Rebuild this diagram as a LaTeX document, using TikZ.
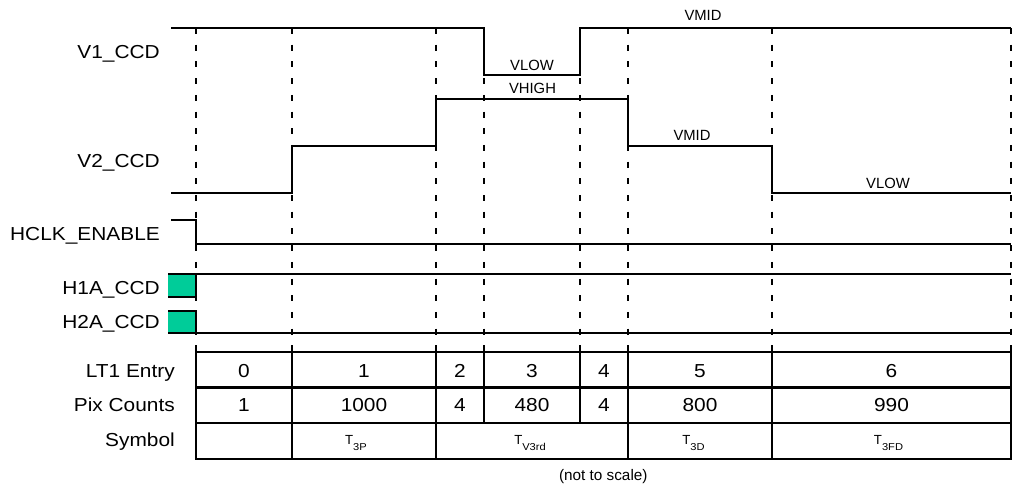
\documentclass[tikz,border=0pt]{standalone}
\usepackage{fontspec}
\setmainfont{Liberation Sans}
\newfontfamily\bigfont[FakeStretch=1.11]{Liberation Sans}
\definecolor{hgreen}{RGB}{0,204,153}
\newcommand{\tsym}[1]{T\raisebox{-6pt}{\bigfont\fontsize{10}{10}\selectfont #1}}
\begin{document}
\begin{tikzpicture}[x=1pt,y=-1pt,
  sig/.style={line width=2pt, line join=miter},
  grid/.style={line width=2.6pt, line cap=rect},
  vdash/.style={line width=2pt, dash pattern=on 6pt off 10.7pt},
  biglbl/.style={inner sep=0pt, font=\bigfont\fontsize{18.8}{20}\selectfont},
  smalllbl/.style={inner sep=0pt, font=\fontsize{14.8}{16}\selectfont},
  tfont/.style={inner sep=0pt, font=\fontsize{13.2}{14}\selectfont}]
\useasboundingbox (0,0) rectangle (1015,485);
% dashed time markers
\foreach \x/\n in {196/a,292/b,436/c,484/d,580/e,628/f,772/g,1011/h}{
  \coordinate (t\n) at (\x,28);
  \coordinate (b\n) at (\x,352);
  \draw[vdash] (t\n) -- (b\n);
}
% V1_CCD
\draw[sig] (171,28) -- (484,28) -- (484,75.3) -- (580,75.3) -- (580,28) -- (1011,28);
% V2_CCD
\draw[sig] (171,193.3) -- (292,193.3) -- (292,146) -- (436,146) -- (436,98.7) -- (628,98.7) -- (628,146) -- (772,146) -- (772,193.3) -- (1011,193.3);
% HCLK_ENABLE
\draw[sig] (171,220.3) -- (196,220.3) -- (196,244.3) -- (1011,244.3);
% H1A_CCD
\fill[hgreen] (168,274) rectangle (196,297.3);
\draw[sig] (168,274) -- (1011,274);
\draw[sig] (168,297.3) -- (196,297.3) -- (196,273);
% H2A_CCD
\fill[hgreen] (168,310.7) rectangle (196,332.7);
\draw[sig] (168,310.7) -- (196,310.7) -- (196,333.7);
\draw[sig] (168,332.7) -- (1011,332.7);
% signal names
\node[biglbl, anchor=base east] (v1) at (160,58.3) {V1\_CCD};
\node[biglbl, anchor=base east] (v2) at (160,167.5) {V2\_CCD};
\node[biglbl, anchor=base east] (hclk) at (160,240.5) {HCLK\_ENABLE};
\node[biglbl, anchor=base east] (h1a) at (160,294.8) {H1A\_CCD};
\node[biglbl, anchor=base east] (h2a) at (160,328.3) {H2A\_CCD};
% level labels
\node[smalllbl, anchor=base] (vmid1) at (703,20) {VMID};
\node[smalllbl, anchor=base] (vlow1) at (532,70) {VLOW};
\node[smalllbl, anchor=base] (vhigh) at (532.5,93.3) {VHIGH};
\node[smalllbl, anchor=base] (vmid2) at (692,140.7) {VMID};
\node[smalllbl, anchor=base] (vlow2) at (888,188.3) {VLOW};
% table
\draw[grid] (196,352) -- (1011,352);
\draw[grid] (196,387.5) -- (1011,387.5);
\draw[grid] (196,423) -- (1011,423);
\draw[grid] (196,459) -- (1011,459);
\foreach \x in {196,292,436,628,772,1011}{
  \draw[grid] (\x,352) -- (\x,459);
}
\foreach \x in {484,580}{
  \draw[grid] (\x,352) -- (\x,423);
}
\node[biglbl, anchor=base east] (r1) at (175,377) {LT1 Entry};
\node[biglbl, anchor=base east] (r2) at (175,411.5) {Pix Counts};
\node[biglbl, anchor=base east] (r3) at (175,446) {Symbol};
\foreach \x/\e/\p/\n in {244/0/1/c0,364/1/1000/c1,460/2/4/c2,532/3/480/c3,604/4/4/c4,700/5/800/c5,891.5/6/990/c6}{
  \node[biglbl, anchor=base] (e\n) at (\x,377) {\e};
  \node[biglbl, anchor=base] (p\n) at (\x,411.5) {\p};
}
\node[tfont, anchor=base] (s1) at (356,444) {\tsym{3P}};
\node[tfont, anchor=base] (s2) at (530,444) {\tsym{V3rd}};
\node[tfont, anchor=base] (s3) at (693.5,444) {\tsym{3D}};
\node[tfont, anchor=base] (s4) at (888.5,444) {\tsym{3FD}};
\node[inner sep=0pt, anchor=base, font=\fontsize{15.3}{16}\selectfont] (nts) at (603.3,480.5) {(not to scale)};
\end{tikzpicture}
\end{document}
